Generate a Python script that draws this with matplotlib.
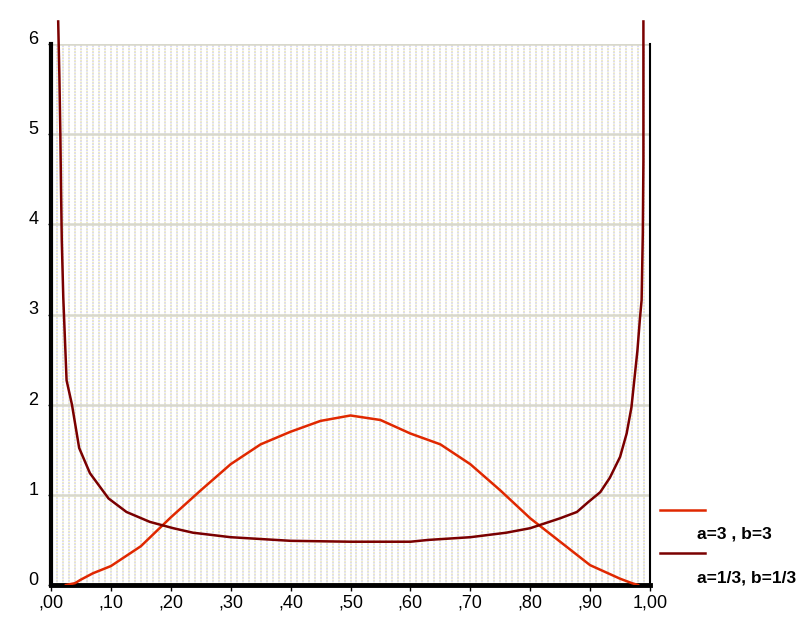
import numpy as np
import matplotlib.pyplot as plt
from matplotlib.lines import Line2D

# values
x_a3 = [0.025, 0.04, 0.05, 0.07, 0.10, 0.15, 0.20, 0.25, 0.30, 0.35, 0.40, 0.45,
        0.50, 0.55, 0.60, 0.65, 0.70, 0.75, 0.80, 0.85, 0.90, 0.95, 0.97, 0.98]
y_a3 = [0.0, 0.02, 0.06, 0.13, 0.21, 0.43, 0.75, 1.05, 1.34, 1.56, 1.70, 1.82,
        1.88, 1.83, 1.68, 1.56, 1.34, 1.05, 0.74, 0.48, 0.22, 0.07, 0.02, 0.0]

x_a13 = [0.012, 0.014, 0.0156, 0.0167, 0.018, 0.0205, 0.026, 0.035, 0.047, 0.065,
         0.096, 0.126, 0.165, 0.204, 0.237, 0.30, 0.35, 0.40, 0.50, 0.60, 0.63,
         0.70, 0.76, 0.80, 0.85, 0.878, 0.897, 0.917, 0.933, 0.95, 0.961, 0.969,
         0.979, 0.983, 0.986, 0.988, 0.989, 0.989]
y_a13 = [6.25, 5.64, 5.01, 4.41, 3.82, 3.19, 2.27, 2.0, 1.52, 1.24,
         0.96, 0.81, 0.70, 0.63, 0.58, 0.53, 0.51, 0.49, 0.48, 0.48, 0.50,
         0.53, 0.58, 0.63, 0.74, 0.81, 0.92, 1.03, 1.19, 1.42, 1.68, 1.97,
         2.60, 2.94, 3.16, 3.90, 4.71, 6.25]

x_ticks = [0.0, 0.1, 0.2, 0.3, 0.4, 0.5, 0.6, 0.7, 0.8, 0.9, 1.0]
x_labels = [',00', ',10', ',20', ',30', ',40', ',50', ',60', ',70', ',80', ',90', '1,00']
y_ticks = [0, 1, 2, 3, 4, 5, 6]
series_names = ['a=3 , b=3', 'a=1/3, b=1/3']

plt.rcParams['font.family'] = ['Liberation Sans', 'DejaVu Sans']

fig = plt.figure(figsize=(8.08, 6.35), dpi=100)
ax = fig.add_axes([51 / 808, 50 / 635, 599 / 808, 541 / 635])
ax.set_xlim(0, 1)
ax.set_ylim(0, 6)

# dense dithered vertical grid and integer horizontal grid
for gx in np.arange(0.01, 1.0, 0.01):
    ax.axvline(gx, color='#cfcff4', lw=1.1, ls=(0, (1.2, 0.8)), zorder=0)
    ax.axvline(gx, color='#f0ecb0', lw=1.1, ls=(1.2, (0.8, 1.2)), zorder=0)
for gy in y_ticks[1:]:
    ax.axhline(gy, color='#d8d8cc', lw=1.8, zorder=0.5)

red = '#e02800'
brown = '#7a0000'
ax.plot(x_a3, y_a3, color=red, lw=1.8, zorder=3)
ax.plot(x_a13, y_a13, color=brown, lw=1.8, zorder=3, clip_on=False)

ax.spines['top'].set_visible(False)
ax.spines['left'].set_linewidth(3)
ax.spines['bottom'].set_linewidth(3.5)
ax.spines['right'].set_linewidth(1.5)

ax.set_xticks(x_ticks)
ax.set_xticklabels(x_labels, fontsize=13)
ax.set_yticks(y_ticks)
ax.set_yticklabels([str(v) for v in y_ticks], fontsize=13)
ax.tick_params(axis='x', length=4, width=1, pad=3)
ax.tick_params(axis='y', length=2, width=1, pad=7)
for lbl in ax.get_yticklabels():
    lbl.set_verticalalignment('baseline')

# legend at right
leg_lines = [(510, red), (553, brown)]
leg_text_y = [534, 578]
for (py, c), ty, name in zip(leg_lines, leg_text_y, series_names):
    fig.add_artist(Line2D([660 / 808, 705 / 808], [1 - py / 635, 1 - py / 635],
                          color=c, lw=1.8))
    fig.text(697 / 808, 1 - ty / 635, name, fontsize=12.5, fontweight='bold',
             va='center', ha='left')

fig.savefig('out.png', dpi=100)
